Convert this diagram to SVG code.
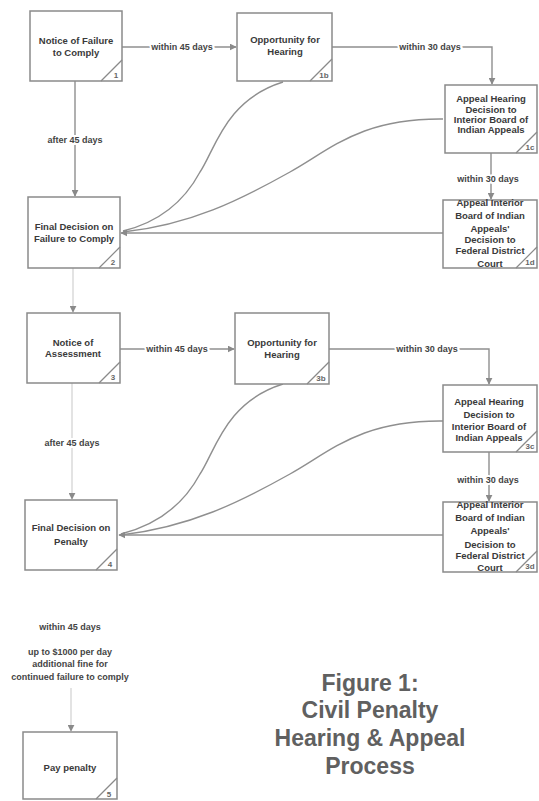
<svg xmlns="http://www.w3.org/2000/svg" width="539" height="801" viewBox="0 0 539 801">
<style>
.box{fill:#fff;stroke:#8a8a8a;stroke-width:1.5}
.diag{fill:none;stroke:#8a8a8a;stroke-width:1.2}
.t{font-family:"Liberation Sans",Arial,sans-serif;font-weight:bold;font-size:9.5px;fill:#3a3a3a;text-anchor:middle}
.num{font-family:"Liberation Sans",Arial,sans-serif;font-weight:bold;font-size:8px;fill:#666;text-anchor:middle}
.lbl{font-family:"Liberation Sans",Arial,sans-serif;font-weight:bold;font-size:9px;fill:#444;text-anchor:middle;paint-order:stroke;stroke:#fff;stroke-width:4px}
.ln{fill:none;stroke:#8f8f8f;stroke-width:1.4}
.faint{fill:none;stroke:#d0d0d0;stroke-width:1.2}
.title{font-family:"Liberation Sans",Arial,sans-serif;font-weight:bold;font-size:23px;fill:#606060;text-anchor:middle}
</style>
<defs>
<marker id="ah" viewBox="0 0 10 10" refX="9" refY="5" markerWidth="7" markerHeight="7" orient="auto" markerUnits="userSpaceOnUse">
<path d="M0,0 L10,5 L0,10 z" fill="#8a8a8a"/>
</marker>
</defs>
<rect width="539" height="801" fill="#fff"/>

<g id="connectors">
<path class="ln" d="M122,47 L236,47" marker-end="url(#ah)"/>
<path class="ln" d="M332,47 L492,47 L492,84" marker-end="url(#ah)"/>
<path class="ln" d="M75,81 L75,196" marker-end="url(#ah)"/>
<path class="ln" d="M491,153 L491,199" marker-end="url(#ah)"/>
<path class="ln" d="M283,82 C225,100 215,150 200,172 C185,200 160,222 123,231"/>
<path class="ln" d="M443,119 C360,118 330,150 290,172 C240,200 190,225 123,232"/>
<path class="ln" d="M443,233 L121,233" marker-end="url(#ah)"/>
<path class="faint" d="M73,268 L73,312" marker-end="url(#ah)"/>

<path class="ln" d="M120,349 L234,349" marker-end="url(#ah)"/>
<path class="ln" d="M329,349 L489,349 L489,384" marker-end="url(#ah)"/>
<path class="ln" d="M489,452 L489,501" marker-end="url(#ah)"/>
<path class="faint" d="M72,383 L72,499" marker-end="url(#ah)"/>
<path class="ln" d="M283,384 C225,402 215,452 200,474 C185,502 160,524 121,534"/>
<path class="ln" d="M443,421 C360,420 330,452 290,474 C240,502 190,527 121,535"/>
<path class="ln" d="M443,535 L119,535" marker-end="url(#ah)"/>

<path class="faint" d="M71,688 L71,731" marker-end="url(#ah)"/>

<text class="lbl" x="182" y="50">within 45 days</text>
<text class="lbl" x="430" y="50">within 30 days</text>
<text class="lbl" x="75" y="143">after 45 days</text>
<text class="lbl" x="488" y="182">within 30 days</text>
<text class="lbl" x="177" y="352">within 45 days</text>
<text class="lbl" x="427" y="352">within 30 days</text>
<text class="lbl" x="72" y="446">after 45 days</text>
<text class="lbl" x="488" y="483">within 30 days</text>
<text class="lbl" x="70" y="630">within 45 days</text>
<text class="lbl" x="70" y="655">up to $1000 per day</text>
<text class="lbl" x="70" y="667">additional fine for</text>
<text class="lbl" x="70" y="680">continued failure to comply</text>
</g>

<g id="n1">
<rect class="box" x="30" y="11" width="92" height="70"/>
<path class="diag" d="M101,81 L122,60"/>
<text class="t" x="76" y="44">Notice of Failure</text>
<text class="t" x="76" y="56">to Comply</text>
<text class="num" x="116" y="78">1</text>
</g>
<g id="n1b">
<rect class="box" x="237" y="13" width="95" height="68"/>
<path class="diag" d="M310,81 L332,59"/>
<text class="t" x="285" y="43">Opportunity for</text>
<text class="t" x="285" y="55">Hearing</text>
<text class="num" x="324" y="78">1b</text>
</g>
<g id="n1c">
<rect class="box" x="445" y="85" width="92" height="68"/>
<path class="diag" d="M516,153 L537,132"/>
<text class="t" x="491" y="102">Appeal Hearing</text>
<text class="t" x="491" y="113">Decision to</text>
<text class="t" x="491" y="123">Interior Board of</text>
<text class="t" x="491" y="133">Indian Appeals</text>
<text class="num" x="530" y="150">1c</text>
</g>
<g id="n1d">
<rect class="box" x="443" y="200" width="94" height="68"/>
<path class="diag" d="M516,268 L537,247"/>
<text class="t" x="490" y="206">Appeal Interior</text>
<text class="t" x="490" y="219">Board of Indian</text>
<text class="t" x="490" y="232">Appeals'</text>
<text class="t" x="490" y="243">Decision to</text>
<text class="t" x="490" y="254">Federal District</text>
<text class="t" x="490" y="267">Court</text>
<text class="num" x="530" y="265">1d</text>
</g>
<g id="n2">
<rect class="box" x="28" y="197" width="92" height="71"/>
<path class="diag" d="M99,268 L120,247"/>
<text class="t" x="74" y="230">Final Decision on</text>
<text class="t" x="74" y="242">Failure to Comply</text>
<text class="num" x="113" y="265">2</text>
</g>
<g id="n3">
<rect class="box" x="27" y="313" width="93" height="70"/>
<path class="diag" d="M99,383 L120,362"/>
<text class="t" x="73" y="346">Notice of</text>
<text class="t" x="73" y="357">Assessment</text>
<text class="num" x="113" y="380">3</text>
</g>
<g id="n3b">
<rect class="box" x="235" y="313" width="94" height="71"/>
<path class="diag" d="M307,384 L329,362"/>
<text class="t" x="282" y="346">Opportunity for</text>
<text class="t" x="282" y="358">Hearing</text>
<text class="num" x="321" y="381">3b</text>
</g>
<g id="n3c">
<rect class="box" x="443" y="385" width="94" height="67"/>
<path class="diag" d="M516,452 L537,431"/>
<text class="t" x="489" y="405">Appeal Hearing</text>
<text class="t" x="489" y="418">Decision to</text>
<text class="t" x="489" y="430">Interior Board of</text>
<text class="t" x="489" y="441">Indian Appeals</text>
<text class="num" x="530" y="449">3c</text>
</g>
<g id="n3d">
<rect class="box" x="443" y="502" width="94" height="70"/>
<path class="diag" d="M516,572 L537,551"/>
<text class="t" x="490" y="508">Appeal Interior</text>
<text class="t" x="490" y="521">Board of Indian</text>
<text class="t" x="490" y="534">Appeals'</text>
<text class="t" x="490" y="548">Decision to</text>
<text class="t" x="490" y="559">Federal District</text>
<text class="t" x="490" y="571">Court</text>
<text class="num" x="530" y="569">3d</text>
</g>
<g id="n4">
<rect class="box" x="25" y="500" width="92" height="70"/>
<path class="diag" d="M96,570 L117,549"/>
<text class="t" x="71" y="531">Final Decision on</text>
<text class="t" x="71" y="545">Penalty</text>
<text class="num" x="110" y="567">4</text>
</g>
<g id="n5">
<rect class="box" x="23" y="732" width="94" height="67"/>
<path class="diag" d="M96,799 L117,778"/>
<text class="t" x="70" y="771">Pay penalty</text>
<text class="num" x="109" y="797">5</text>
</g>

<g id="title">
<text class="title" x="370" y="691">Figure 1:</text>
<text class="title" x="370" y="718">Civil Penalty</text>
<text class="title" x="370" y="746">Hearing &amp; Appeal</text>
<text class="title" x="370" y="774">Process</text>
</g>
</svg>
